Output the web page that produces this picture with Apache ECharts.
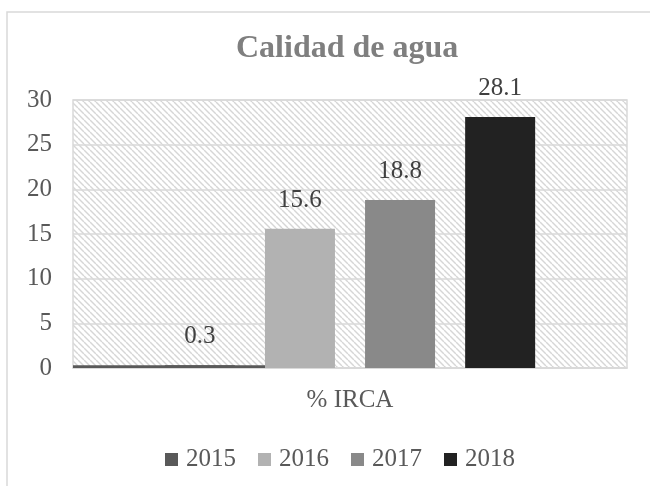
<!DOCTYPE html>
<html>
<head>
<meta charset="utf-8">
<script src="https://cdn.jsdelivr.net/npm/echarts@6/dist/echarts.min.js"></script>
<style>
  html, body { margin: 0; padding: 0; background: #fff; }
  #chart { width: 650px; height: 486px; }
</style>
</head>
<body>
<div id="chart"></div>
<script>
const categories = ['% IRCA']
const years = ['2015', '2016', '2017', '2018']
const values2015 = [0.3]
const values2016 = [15.6]
const values2017 = [18.8]
const values2018 = [28.1]
const yTicks = [0, 5, 10, 15, 20, 25, 30]

const barColors = ['#595959', '#b2b2b2', '#898989', '#222222']
const serif = '"Liberation Serif", "Times New Roman", serif'

// diagonal hatch for the plot background
function hatch() {
  const c = document.createElement('canvas')
  c.width = 6
  c.height = 6
  const ctx = c.getContext('2d')
  ctx.fillStyle = '#ffffff'
  ctx.fillRect(0, 0, 6, 6)
  ctx.strokeStyle = '#d6d6d6'
  ctx.lineWidth = 1.4
  for (let k = -6; k <= 6; k += 6) {
    ctx.beginPath()
    ctx.moveTo(k, 0)
    ctx.lineTo(k + 6, 6)
    ctx.stroke()
  }
  return c
}

const chart = echarts.init(document.getElementById('chart'))

function barSeries(name, data, color) {
  return {
    name: name,
    type: 'bar',
    xAxisIndex: 0,
    yAxisIndex: 0,
    barWidth: 70,
    barGap: '43%',
    data: data,
    itemStyle: { color: color },
    label: {
      show: true,
      position: 'top',
      distance: 16,
      fontFamily: serif,
      fontSize: 25,
      color: '#404040'
    }
  }
}

chart.setOption({
  animation: false,
  backgroundColor: '#ffffff',
  graphic: [{
    type: 'rect',
    shape: { x: 7, y: 12, width: 700, height: 500 },
    style: { fill: 'none', stroke: '#d9d9d9', lineWidth: 1.5 },
    silent: true,
    z: -10
  }],
  title: {
    text: 'Calidad de agua',
    left: 231,
    top: 28,
    textStyle: {
      fontFamily: serif,
      fontSize: 32,
      fontWeight: 'bold',
      color: '#7f7f7f'
    }
  },
  legend: {
    data: years,
    left: 160,
    top: 442,
    icon: 'rect',
    itemWidth: 13,
    itemHeight: 13,
    itemGap: 22,
    textStyle: {
      fontFamily: serif,
      fontSize: 25,
      color: '#595959',
      padding: [0, 0, 0, 3]
    }
  },
  grid: [{
    left: 73,
    right: 23,
    top: 100,
    bottom: 118,
    show: true,
    backgroundColor: { image: hatch(), repeat: 'repeat' },
    borderColor: '#d9d9d9',
    borderWidth: 1.5
  }, {
    left: 73,
    width: 192,
    top: 100,
    bottom: 118
  }],
  xAxis: [{
    type: 'category',
    gridIndex: 0,
    data: categories,
    axisTick: { show: false },
    axisLine: { lineStyle: { color: '#d9d9d9', width: 1.5 } },
    axisLabel: {
      margin: 20,
      fontFamily: serif,
      fontSize: 25,
      color: '#595959'
    }
  }, {
    type: 'category',
    gridIndex: 1,
    data: categories,
    show: false
  }],
  yAxis: [{
    type: 'value',
    gridIndex: 0,
    min: 0,
    max: 30,
    interval: 5,
    axisLine: { show: false },
    axisTick: { show: false },
    splitLine: { lineStyle: { color: '#d9d9d9', width: 1.5 } },
    axisLabel: {
      margin: 21,
      fontFamily: serif,
      fontSize: 25,
      color: '#595959',
      formatter: function (v) { return yTicks.indexOf(v) >= 0 ? String(v) : '' }
    }
  }, {
    type: 'value',
    gridIndex: 1,
    min: 0,
    max: 30,
    show: false
  }],
  series: [
    barSeries(years[0], values2015, barColors[0]),
    barSeries(years[1], values2016, barColors[1]),
    barSeries(years[2], values2017, barColors[2]),
    barSeries(years[3], values2018, barColors[3]),
    {
      // the 2015 bar is drawn across the left part of the plot
      name: years[0],
      type: 'bar',
      xAxisIndex: 1,
      yAxisIndex: 1,
      barWidth: '100%',
      data: values2015,
      itemStyle: { color: barColors[0] },
      silent: true,
      z: 3
    }
  ]
})
</script>
</body>
</html>
